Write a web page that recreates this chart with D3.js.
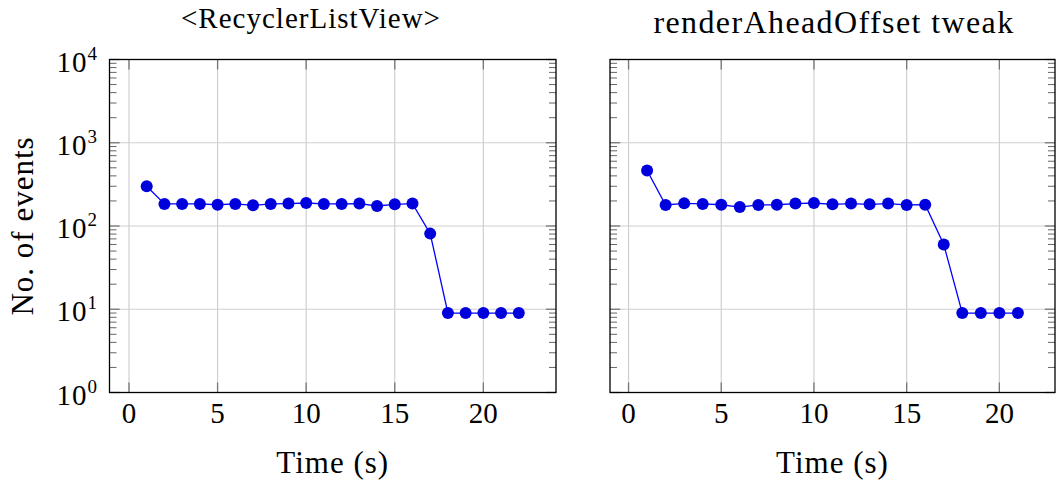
<!DOCTYPE html>
<html lang="en">
  <head>
    <meta charset="UTF-8" />
    <title>RecyclerListView events over time</title>
    <script src="https://d3js.org/d3.v7.min.js"></script>
    <style>
      body {
        margin: 0;
        background: #fff;
      }
      svg text {
        font-family: "Liberation Serif", "DejaVu Serif", serif;
        fill: #000;
      }
      .grid {
        stroke: #cfcfcf;
        stroke-width: 1.2px;
      }
      .frame {
        fill: none;
        stroke: #000;
        stroke-width: 1.3px;
      }
      .tick-major {
        stroke: #777;
        stroke-width: 1.3px;
      }
      .tick-minor {
        stroke: #666;
        stroke-width: 1px;
      }
      .series {
        fill: none;
        stroke: #0000ff;
        stroke-width: 1.3px;
      }
      .dot {
        fill: #0000dd;
      }
    </style>
  </head>
  <body>
    <svg id="chart" width="1056" height="480"></svg>

    <script>
      // chart values
      const leftTime = [1, 2, 3, 4, 5, 6, 7, 8, 9, 10, 11, 12, 13, 14, 15, 16, 17, 18, 19, 20, 21, 22];
      const leftEvents = [300, 184, 184, 184, 180, 184, 177, 184, 186, 189, 184, 184, 186, 174, 182, 186, 81, 9, 9, 9, 9, 9];
      const rightTime = [1, 2, 3, 4, 5, 6, 7, 8, 9, 10, 11, 12, 13, 14, 15, 16, 17, 18, 19, 20, 21];
      const rightEvents = [465, 179, 187, 184, 180, 169, 179, 180, 186, 189, 182, 186, 182, 186, 179, 180, 60, 9, 9, 9, 9];

      const xTicks = [0, 5, 10, 15, 20];
      const yDecades = [0, 1, 2, 3, 4];
      const titles = ["<RecyclerListView>", "renderAheadOffset tweak"];
      const xLabel = "Time (s)";
      const yLabel = "No. of events";

      const svg = d3.select("#chart");
      svg.append("rect").attr("width", 1056).attr("height", 480).attr("fill", "#fff");

      const yTop = 59.5, yBottom = 392.5;
      const y = d3.scaleLog().domain([1, 1e4]).range([yBottom, yTop]);

      // minor ticks 2..9 of each decade
      const minor = [];
      yDecades.slice(0, -1).forEach((e) => {
        for (let k = 2; k <= 9; k++) minor.push(k * Math.pow(10, e));
      });

      function panel(opt) {
        const x = d3.scaleLinear().domain(opt.domain).range([opt.left, opt.right]);
        const g = svg.append("g");

        // grid
        g.selectAll(".gx")
          .data(xTicks)
          .join("line")
          .attr("class", "grid")
          .attr("x1", (d) => x(d))
          .attr("x2", (d) => x(d))
          .attr("y1", yTop)
          .attr("y2", yBottom);
        g.selectAll(".gy")
          .data(yDecades)
          .join("line")
          .attr("class", "grid")
          .attr("x1", opt.left)
          .attr("x2", opt.right)
          .attr("y1", (d) => y(Math.pow(10, d)))
          .attr("y2", (d) => y(Math.pow(10, d)));

        // x major ticks, bottom and top, pointing inward
        [
          [yBottom, -10],
          [yTop, 10],
        ].forEach(([yy, len]) => {
          g.append("g")
            .selectAll("line")
            .data(xTicks)
            .join("line")
            .attr("class", "tick-major")
            .attr("x1", (d) => x(d))
            .attr("x2", (d) => x(d))
            .attr("y1", yy)
            .attr("y2", yy + len);
        });

        // y minor + major ticks, left and right
        [
          [opt.left, 7],
          [opt.right, -7],
        ].forEach(([xx, len]) => {
          g.append("g")
            .selectAll("line")
            .data(minor)
            .join("line")
            .attr("class", "tick-minor")
            .attr("x1", xx)
            .attr("x2", xx + len)
            .attr("y1", (d) => y(d))
            .attr("y2", (d) => y(d));
          g.append("g")
            .selectAll("line")
            .data(yDecades)
            .join("line")
            .attr("class", "tick-major")
            .attr("x1", xx)
            .attr("x2", xx + len * 1.45)
            .attr("y1", (d) => y(Math.pow(10, d)))
            .attr("y2", (d) => y(Math.pow(10, d)));
        });

        // frame
        g.append("rect")
          .attr("class", "frame")
          .attr("x", opt.left)
          .attr("y", yTop)
          .attr("width", opt.right - opt.left)
          .attr("height", yBottom - yTop);

        // series
        const line = d3
          .line()
          .x((d, i) => x(opt.time[i]))
          .y((d) => y(d));
        g.append("path").datum(opt.events).attr("class", "series").attr("d", line);
        g.selectAll(".dot")
          .data(opt.events)
          .join("circle")
          .attr("class", "dot")
          .attr("cx", (d, i) => x(opt.time[i]))
          .attr("cy", (d) => y(d))
          .attr("r", 6);

        // x tick labels
        g.selectAll(".xl")
          .data(xTicks)
          .join("text")
          .attr("x", (d) => x(d))
          .attr("y", 423)
          .attr("text-anchor", "middle")
          .style("font-size", "29px")
          .text((d) => d);

        // y tick labels only on the first panel
        if (opt.yLabels) {
          const t = g
            .selectAll(".yl")
            .data(yDecades)
            .join("text")
            .attr("x", 97)
            .attr("y", (d) => y(Math.pow(10, d)) + 12)
            .attr("text-anchor", "end")
            .style("font-size", "29px");
          t.append("tspan").style("letter-spacing", "1px").text("10");
          t.append("tspan")
            .attr("dy", -12)
            .style("font-size", "19px")
            .text((d) => d);

          g.append("text")
            .attr("transform", `translate(33,${(yTop + yBottom) / 2}) rotate(-90)`)
            .attr("text-anchor", "middle")
            .style("font-size", "31px")
            .style("letter-spacing", "1px")
            .text(yLabel);
        }

        // axis label and title
        g.append("text")
          .attr("x", (opt.left + opt.right) / 2)
          .attr("y", 473)
          .attr("text-anchor", "middle")
          .style("font-size", "31px")
          .style("letter-spacing", "1px")
          .text(xLabel);
        g.append("text")
          .attr("x", opt.titleX)
          .attr("y", opt.titleY)
          .attr("text-anchor", "middle")
          .style("font-size", opt.titleSize)
          .style("letter-spacing", opt.titleSpacing)
          .text(opt.title);
      }

      panel({
        left: 109.5,
        right: 556,
        domain: [-1.1, 24.1],
        time: leftTime,
        events: leftEvents,
        yLabels: true,
        title: titles[0],
        titleX: 311,
        titleY: 28,
        titleSize: "29px",
        titleSpacing: "1px",
      });
      panel({
        left: 610,
        right: 1055,
        domain: [-1, 23],
        time: rightTime,
        events: rightEvents,
        yLabels: false,
        title: titles[1],
        titleX: 834,
        titleY: 33,
        titleSize: "32px",
        titleSpacing: "1.4px",
      });
    </script>
  </body>
</html>
